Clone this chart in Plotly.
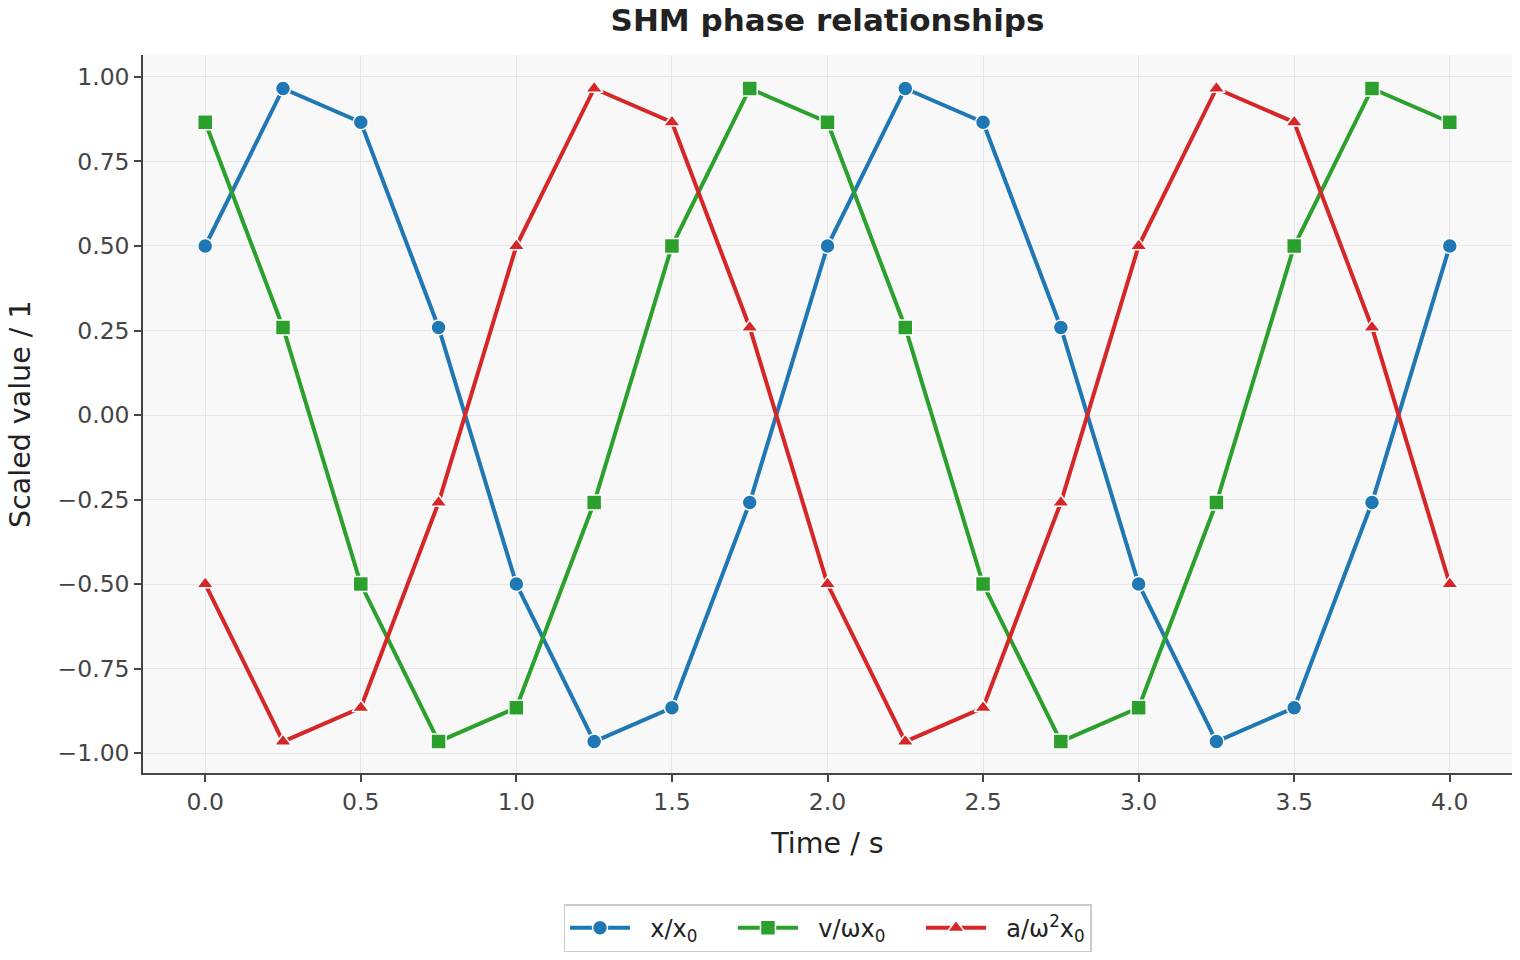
import plotly.graph_objects as go

time_s = [0.0, 0.25, 0.5, 0.75, 1.0, 1.25, 1.5, 1.75, 2.0, 2.25, 2.5, 2.75, 3.0, 3.25, 3.5, 3.75, 4.0]
x_scaled = [0.5, 0.966, 0.866, 0.259, -0.5, -0.966, -0.866, -0.259, 0.5, 0.966, 0.866, 0.259, -0.5, -0.966, -0.866, -0.259, 0.5]
v_scaled = [0.866, 0.259, -0.5, -0.966, -0.866, -0.259, 0.5, 0.966, 0.866, 0.259, -0.5, -0.966, -0.866, -0.259, 0.5, 0.966, 0.866]
a_scaled = [-0.5, -0.966, -0.866, -0.259, 0.5, 0.966, 0.866, 0.259, -0.5, -0.966, -0.866, -0.259, 0.5, 0.966, 0.866, 0.259, -0.5]

series = [
    ("x/x<sub>0</sub>", x_scaled, "#1f77b4", "circle"),
    ("v/ωx<sub>0</sub>", v_scaled, "#2ca02c", "square"),
    ("a/ω<sup>2</sup>x<sub>0</sub>", a_scaled, "#d62728", "triangle-up"),
]

fig = go.Figure()
for i, (name, vals, color, sym) in enumerate(series):
    label = "&nbsp;&nbsp;" + name + ("&nbsp;&nbsp;&nbsp;&nbsp;" if i < len(series) - 1 else "")
    fig.add_trace(go.Scatter(
        x=time_s, y=vals, name=label, mode="lines+markers",
        line=dict(color=color, width=4),
        marker=dict(symbol=sym, size=15, color=color, line=dict(color="white", width=1.5)),
    ))

axis_common = dict(
    showline=True, linecolor="#444444", linewidth=1.5,
    ticks="outside", ticklen=7, tickwidth=1.5, tickcolor="#444444",
    showgrid=True, gridcolor="#e6e6ea", gridwidth=1,
    zeroline=False, mirror=False,
    tickfont=dict(family="DejaVu Sans", size=23.5, color="#444444"),
)

L, R, T, B = 143, 8, 55, 187
plot_w = 1520 - L - R

fig.update_layout(
    width=1520, height=960,
    margin=dict(l=L, r=R, t=T, b=B),
    paper_bgcolor="white", plot_bgcolor="#f8f8f8",
    font=dict(family="DejaVu Sans", color="#222222"),
    title=dict(text="<b>SHM phase relationships</b>", x=(L + 1520 - R) / 2 / 1520, xanchor="center",
               y=1 - 20 / 960, yanchor="middle", font=dict(size=31, color="#222222")),
    xaxis=dict(axis_common, range=[-0.2, 4.2], tickvals=[0, 0.5, 1, 1.5, 2, 2.5, 3, 3.5, 4],
               ticktext=["0.0", "0.5", "1.0", "1.5", "2.0", "2.5", "3.0", "3.5", "4.0"],
               title=dict(text="Time / s", font=dict(size=28.5, color="#222222"), standoff=18)),
    yaxis=dict(axis_common, range=[-1.059, 1.065], tickvals=[-1, -0.75, -0.5, -0.25, 0, 0.25, 0.5, 0.75, 1],
               ticktext=["−1.00", "−0.75", "−0.50", "−0.25", "0.00", "0.25", "0.50", "0.75", "1.00"]),
    legend=dict(orientation="h", x=0.5, xanchor="center", y=-0.216, yanchor="middle",
                bordercolor="#cccccc", borderwidth=1.5, bgcolor="white",
                font=dict(size=24, color="#222222"), itemwidth=60),
    showlegend=True,
    annotations=[dict(text="Scaled value / 1", textangle=-90, showarrow=False,
                      xref="paper", yref="paper", x=(20 - L) / plot_w, y=0.5,
                      xanchor="center", yanchor="middle",
                      font=dict(size=28.5, color="#222222"))],
)

fig.write_html("out.html")
